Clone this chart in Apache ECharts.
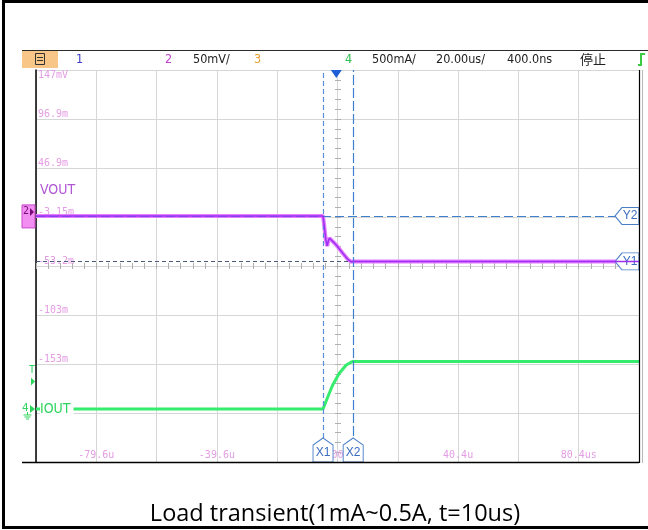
<!DOCTYPE html>
<html>
<head>
<meta charset="utf-8">
<script src="https://cdn.jsdelivr.net/npm/echarts@6/dist/echarts.min.js"></script>
<style>
  html, body { margin: 0; padding: 0; background: #fff; }
  #c { width: 648px; height: 530px; }
</style>
</head>
<body>
<div id="c"></div>
<script>
// Channel 2 (VOUT) in mV against time in µs
const vTime = [-99.6, -4.4, -4.0, -3.5, -3.0, -2.6, -2.25, -1.2, 0.0, 2.15, 3.8, 4.9, 5.6, 100.4];
const vOut  = [-2.1, -2.1, -12, -26, -32.7, -27, -24.8, -28, -31.7, -40.1, -46.3, -48.7, -48.5, -48.5];

// Channel 4 (IOUT) in mA against time in µs
const iTime = [-99.6, -4.4, -2.8, -1.2, 1.0, 3.3, 4.9, 5.6, 100.4];
const iOut  = [1, 1, 125, 245, 364, 449, 477, 485, 485];

// Cursor positions
const cursorX = [-4.4, 5.6];     // X1, X2 (µs)
const cursorY = [-48.5, -2.1];   // Y1, Y2 (mV)
const trigLevel = 280;           // trigger level on channel 4 (mA)

// Tick labels
const timeTickValues = [-79.6, -39.6, 0.4, 40.4, 80.4];
const timeTickLabels = ['-79.6u', '-39.6u', '400n', '40.4u', '80.4us'];
const voltTickValues = [146.85, 96.85, 46.85, -3.15, -53.15, -103.15, -153.15];
const voltTickLabels = ['147mV', '96.9m', '46.9m', '-3.15m', '-53.2m', '-103m', '-153m'];

const chart = echarts.init(document.getElementById('c'), null, { renderer: 'canvas' });

const pair = (xs, ys) => xs.map((x, i) => [x, ys[i]]);
const findIdx = (vals, v, tol) => vals.findIndex(a => Math.abs(a - v) < tol);

const pink = '#e49ce4';
const mono = 'DejaVu Sans Mono';
const narrow = "'Liberation Sans Narrow', 'DejaVu Sans Condensed', 'Liberation Sans', sans-serif";

const xBase = { type: 'value', gridIndex: 0, min: -99.6, max: 100.4, interval: 20 };
const yBase = { type: 'value', gridIndex: 0, min: -253.15, max: 146.85, interval: 50 };
const tickStyle = { color: '#b0b0b0', width: 1 };
const crossAxis = (inside) => ({
  axisLine: { show: false, onZero: false },
  axisLabel: { show: false },
  splitLine: { show: false },
  axisTick: { show: true, length: 3, inside: inside, lineStyle: tickStyle },
  minorTick: { show: true, splitNumber: 5, length: 3, lineStyle: tickStyle }
});

const upBox = 'path://M10,0 L20,7 L20,24 L0,24 L0,7 Z';
const leftBox = 'path://M0,8.5 L7,0 L24,0 L24,17 L7,17 Z';
const boxLabel = { show: true, position: 'inside', color: '#3a6cc0', fontSize: 12, fontFamily: 'Liberation Sans', formatter: p => p.name };

const option = {
  animation: false,
  backgroundColor: '#fff',
  grid: { left: 36, top: 70, width: 603, height: 392 },
  xAxis: [
    Object.assign({}, xBase, {
      position: 'bottom',
      axisLine: { show: false, onZero: false },
      axisTick: { show: false },
      splitLine: { show: true, lineStyle: { color: '#d6d6d6', width: 1 } },
      axisLabel: {
        inside: true, margin: 2, color: pink, fontFamily: mono, fontSize: 10,
        showMinLabel: true, showMaxLabel: true,
        formatter: v => { const i = findIdx(timeTickValues, v, 0.05); return i < 0 ? '' : timeTickLabels[i]; }
      }
    }),
    Object.assign({}, xBase, { position: 'bottom', offset: -196 }, crossAxis(false)),
    Object.assign({}, xBase, { position: 'bottom', offset: -196 }, crossAxis(true))
  ],
  yAxis: [
    Object.assign({}, yBase, {
      position: 'left',
      axisLine: { show: true, onZero: false, lineStyle: { color: '#000', width: 1.5 } },
      axisTick: { show: false },
      splitLine: { show: true, lineStyle: { color: '#d6d6d6', width: 1 } },
      axisLabel: {
        inside: true, margin: 2, showMinLabel: true, showMaxLabel: true,
        formatter: v => {
          const i = findIdx(voltTickValues, v, 0.05);
          if (i < 0) return '';
          return i === 0 ? '{s| }\n{v|' + voltTickLabels[i] + '}' : '{v|' + voltTickLabels[i] + '}\n{s| }';
        },
        rich: {
          v: { color: pink, fontFamily: mono, fontSize: 10, lineHeight: 10 },
          s: { fontSize: 10, lineHeight: 10 }
        }
      }
    }),
    { type: 'value', gridIndex: 0, position: 'right', min: -541, max: 3459, show: false, axisLine: { onZero: false } },
    Object.assign({}, yBase, { position: 'left', offset: -302 }, crossAxis(false)),
    Object.assign({}, yBase, { position: 'left', offset: -302 }, crossAxis(true))
  ],
  series: [
    {
      name: 'cursor lines', type: 'line', xAxisIndex: 0, yAxisIndex: 0, data: [], z: 3, silent: true,
      markLine: {
        silent: true, animation: false, symbol: ['none', 'none'], label: { show: false },
        data: [
          { xAxis: cursorX[0], lineStyle: { color: '#5b8ed6', type: [5, 3], width: 1.2 } },
          { xAxis: cursorX[1], lineStyle: { color: '#3f7fd0', type: [10, 3], width: 1.2 } },
          { yAxis: cursorY[0], lineStyle: { color: '#4c5a7a', type: [4, 3], width: 1.2 } },
          { yAxis: cursorY[1], lineStyle: { color: '#3f7fd0', type: [9, 4], width: 1.2 } }
        ]
      }
    },
    {
      name: 'VOUT', type: 'line', xAxisIndex: 0, yAxisIndex: 0, data: pair(vTime, vOut),
      symbol: 'none', silent: true, z: 4, lineStyle: { color: '#e57dff', width: 4 }
    },
    {
      name: 'VOUT core', type: 'line', xAxisIndex: 0, yAxisIndex: 0, data: pair(vTime, vOut),
      symbol: 'none', silent: true, z: 5, lineStyle: { color: '#9c2ff2', width: 1.5 }
    },
    {
      name: 'IOUT', type: 'line', xAxisIndex: 0, yAxisIndex: 1, data: pair(iTime, iOut),
      symbol: 'none', silent: true, z: 4, lineStyle: { color: '#35ec6c', width: 3 }
    },
    {
      name: 'cursor tags', type: 'line', xAxisIndex: 0, yAxisIndex: 0, data: [], z: 10, silent: true,
      markPoint: {
        silent: true, animation: false,
        itemStyle: { color: '#ffffff', borderColor: '#4a7fc8', borderWidth: 1 },
        data: [
          { name: 'X1', coord: [cursorX[0], -253.15], symbol: upBox, symbolSize: [20, 24], symbolOffset: [0, -12], label: Object.assign({}, boxLabel, { offset: [0, 3] }) },
          { name: 'X2', coord: [cursorX[1], -253.15], symbol: upBox, symbolSize: [20, 24], symbolOffset: [0, -12], label: Object.assign({}, boxLabel, { offset: [0, 3] }) },
          { name: 'Y1', coord: [100.4, cursorY[0]], symbol: leftBox, symbolSize: [24, 17], symbolOffset: [-12, 0], label: Object.assign({}, boxLabel, { offset: [3, 0] }) },
          { name: 'Y2', coord: [100.4, cursorY[1]], symbol: leftBox, symbolSize: [24, 17], symbolOffset: [-12, 0], label: Object.assign({}, boxLabel, { offset: [3, 0] }) },
          { name: 'trig', coord: [0, 146.85], symbol: 'triangle', symbolRotate: 180, symbolSize: [11, 8], symbolOffset: [0, 4],
            itemStyle: { color: '#1e5ed8', borderWidth: 0 }, label: { show: false } }
        ]
      }
    }
  ]
};
chart.setOption(option);

// Channel markers, labels, status bar and frame
const y0v = chart.convertToPixel({ yAxisIndex: 0 }, 0);
const y0i = chart.convertToPixel({ yAxisIndex: 1 }, 0);
const yT = chart.convertToPixel({ yAxisIndex: 1 }, trigLevel);
const green = '#2fd45e';

const groundSym = (cx, y, color) => [
  { type: 'line', shape: { x1: cx, y1: y, x2: cx, y2: y + 3 }, style: { stroke: color, lineWidth: 1 } },
  { type: 'line', shape: { x1: cx - 4, y1: y + 3, x2: cx + 4, y2: y + 3 }, style: { stroke: color, lineWidth: 1 } },
  { type: 'line', shape: { x1: cx - 3, y1: y + 5, x2: cx + 3, y2: y + 5 }, style: { stroke: color, lineWidth: 1 } },
  { type: 'line', shape: { x1: cx - 1.5, y1: y + 7, x2: cx + 1.5, y2: y + 7 }, style: { stroke: color, lineWidth: 1 } }
];

const barFont = '12.5px ' + narrow;
const bar = [
  { type: 'text', x: 76, y: 59.5, style: { text: '1', fill: '#3c3cc8', font: barFont, textVerticalAlign: 'middle' } },
  { type: 'text', x: 165, y: 59.5, style: { text: '2', fill: '#c040d0', font: barFont, textVerticalAlign: 'middle' } },
  { type: 'text', x: 193, y: 59.5, style: { text: '50mV/', fill: '#222', font: barFont, textVerticalAlign: 'middle' } },
  { type: 'text', x: 254, y: 59.5, style: { text: '3', fill: '#e8a030', font: barFont, textVerticalAlign: 'middle' } },
  { type: 'text', x: 345, y: 59.5, style: { text: '4', fill: '#30c050', font: barFont, textVerticalAlign: 'middle' } },
  { type: 'text', x: 372, y: 59.5, style: { text: '500mA/', fill: '#222', font: barFont, textVerticalAlign: 'middle' } },
  { type: 'text', x: 436, y: 59.5, style: { text: '20.00us/', fill: '#222', font: barFont, textVerticalAlign: 'middle' } },
  { type: 'text', x: 507, y: 59.5, style: { text: '400.0ns', fill: '#222', font: barFont, textVerticalAlign: 'middle' } },
  { type: 'text', x: 580, y: 59.5, style: { text: '停止', fill: '#222', font: '13px "Noto Sans CJK SC"', textVerticalAlign: 'middle' } }
];

chart.setOption({
  graphic: [
    // outer frame
    { type: 'rect', shape: { x: 3.5, y: 1.5, width: 700, height: 526 }, style: { fill: 'none', stroke: '#000', lineWidth: 3 }, z: 100 },
    // status bar
    { type: 'line', shape: { x1: 22, y1: 50.5, x2: 648, y2: 50.5 }, style: { stroke: '#2a2a2a', lineWidth: 1 }, z: 50 },
    { type: 'rect', shape: { x: 22, y: 51, width: 36, height: 17 }, style: { fill: '#f8c687' }, z: 50 },
    { type: 'rect', shape: { x: 35.5, y: 53.5, width: 9, height: 11 }, style: { fill: 'none', stroke: '#333', lineWidth: 1 }, z: 51 },
    { type: 'line', shape: { x1: 37, y1: 57.5, x2: 43, y2: 57.5 }, style: { stroke: '#333', lineWidth: 1 }, z: 51 },
    { type: 'line', shape: { x1: 37, y1: 60.5, x2: 43, y2: 60.5 }, style: { stroke: '#333', lineWidth: 1 }, z: 51 },
    { type: 'group', z: 50, children: bar },
    { type: 'polyline', shape: { points: [[638, 65], [641, 65], [641, 54], [645, 54]] }, style: { stroke: '#3ccc44', fill: 'none', lineWidth: 2 }, z: 50 },
    // plot frame lines
    { type: 'line', shape: { x1: 22, y1: 462.5, x2: 639, y2: 462.5 }, style: { stroke: '#000', lineWidth: 1.5 }, z: 40 },
    { type: 'line', shape: { x1: 639.5, y1: 70, x2: 639.5, y2: 463 }, style: { stroke: '#000', lineWidth: 1.2 }, z: 40 },
    { type: 'line', shape: { x1: 642.5, y1: 70, x2: 642.5, y2: 463 }, style: { stroke: '#b8b8b8', lineWidth: 1 }, z: 40 },
    // channel 2 marker
    { type: 'rect', shape: { x: 22, y: y0v - 9, width: 13, height: 23 }, style: { fill: '#f28ef2', stroke: '#c848c8', lineWidth: 1 }, z: 40 },
    { type: 'text', x: 23, y: y0v - 3, style: { text: '2', fill: '#7a0a7a', font: '10px ' + mono, textVerticalAlign: 'middle' }, z: 41 },
    { type: 'polygon', shape: { points: [[30, y0v - 6], [34, y0v - 2], [30, y0v + 2]] }, style: { fill: '#7a0a7a' }, z: 41 },
    { type: 'group', z: 41, children: groundSym(28.5, y0v + 2, '#7a0a7a') },
    // channel 4 marker
    { type: 'text', x: 22, y: y0i - 1, style: { text: '4', fill: green, font: '11px ' + mono, textVerticalAlign: 'middle' }, z: 41 },
    { type: 'polygon', shape: { points: [[30, y0i - 4], [35, y0i], [30, y0i + 4]] }, style: { fill: green }, z: 41 },
    { type: 'group', z: 41, children: groundSym(27.5, y0i + 3, green) },
    // trigger level marker
    { type: 'text', x: 29, y: yT - 11, style: { text: 'T', fill: green, font: '10px ' + mono, textVerticalAlign: 'middle' }, z: 41 },
    { type: 'polygon', shape: { points: [[31, yT - 4], [35, yT], [31, yT + 4]] }, style: { fill: green }, z: 41 },
    // channel labels
    { type: 'text', x: 40, y: y0v - 24, style: { text: 'VOUT', fill: '#b055d4', font: '14px ' + narrow, textVerticalAlign: 'middle' }, z: 41 },
    { type: 'text', x: 40, y: y0i, style: { text: 'IOUT', fill: green, font: '14px ' + narrow, textVerticalAlign: 'middle', backgroundColor: '#fff', padding: [0, 3, 0, 0] }, z: 41 },
    // caption
    { type: 'text', x: 335, y: 514, style: { text: 'Load transient(1mA~0.5A, t=10us)', fill: '#000', font: '23.5px "Open Sans"', textAlign: 'center', textVerticalAlign: 'middle' }, z: 41 }
  ]
});
</script>
</body>
</html>
